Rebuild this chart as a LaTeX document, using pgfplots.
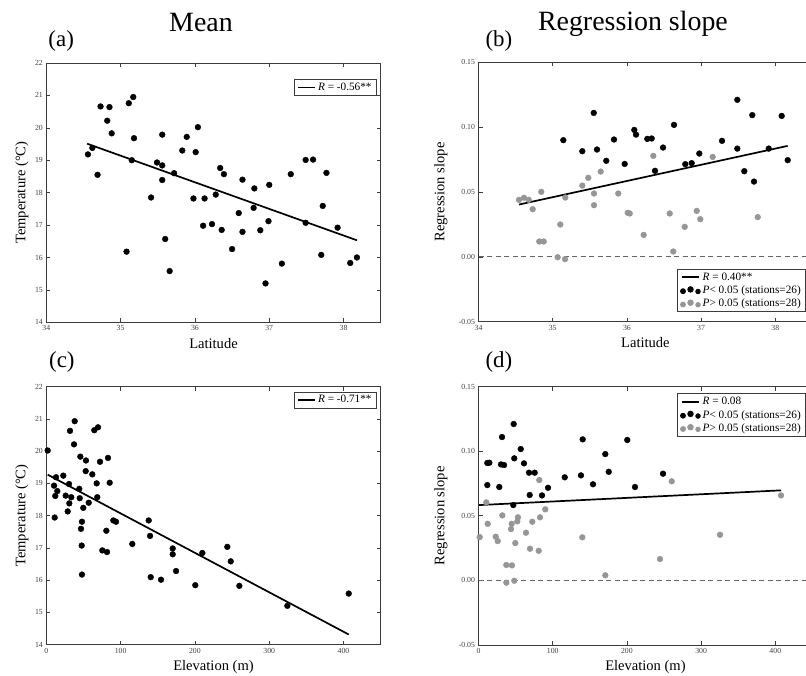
\documentclass[border=0pt]{standalone}
\usepackage{fontspec}
\setmainfont{Liberation Serif}
\usepackage{pgfplots}
\usepackage{pgfplotstable}
\pgfplotsset{compat=1.18}

\definecolor{frame}{RGB}{60,60,60}
\definecolor{nsgray}{RGB}{150,150,150}
\definecolor{zeroline}{RGB}{100,100,100}

% station means: latitude, elevation (m), temperature (degC)
\pgfplotstableread{
lat   T
34.56 19.18
34.62 19.38
34.69 18.55
34.73 20.66
34.85 20.64
34.82 20.22
34.88 19.83
35.11 20.76
35.17 20.95
35.18 19.68
35.15 19.00
35.56 19.79
35.49 18.93
35.56 18.84
35.56 18.39
35.72 18.60
35.83 19.30
35.89 19.72
36.01 19.25
36.04 20.02
36.34 18.76
36.39 18.57
36.64 18.40
37.29 18.57
37.49 19.01
37.59 19.02
37.77 18.61
35.41 17.85
35.08 16.18
35.60 16.57
35.66 15.58
35.98 17.82
36.13 17.82
36.28 17.94
36.11 16.98
36.23 17.03
36.36 16.85
36.50 16.26
36.59 17.37
36.64 16.79
36.80 18.13
36.79 17.53
37.00 18.24
36.99 17.12
36.88 16.84
36.95 15.20
37.17 15.81
37.49 17.07
37.72 17.59
37.70 16.08
37.92 16.92
38.09 15.83
38.18 16.00
}\meanlat

\pgfplotstableread{
elev  T
1.9   20.02
38.2  20.93
31.9  20.63
37.3  20.21
45.8  19.83
53.4  19.71
53.0  19.38
61.9  19.28
64.6  20.65
69.6  20.74
72.3  19.67
83.0  19.79
85.3  19.02
67.8  19.00
13.1  19.19
22.9  19.24
10.4  18.93
30.6  18.98
44.4  18.83
14.8  18.76
12.1  18.61
26.1  18.62
33.6  18.57
31.0  18.38
28.8  18.13
11.3  17.94
45.0  18.54
49.8  18.24
57.1  18.40
68.6  18.57
48.0  17.81
46.7  17.59
47.6  17.07
48.0  16.17
75.4  16.92
81.7  16.87
80.8  17.53
90.2  17.85
93.8  17.81
115.7 17.12
137.8 17.85
139.6 17.37
140.5 16.09
154.4 16.01
170.1 16.98
170.1 16.80
174.6 16.28
200.5 15.84
210.0 16.84
243.6 17.03
248.2 16.58
259.8 15.82
324.4 15.20
407.0 15.58
}\meanelev

% regression slopes against latitude, significant (P<0.05) stations
\pgfplotstableread{
lat    s
35.143 0.0899
35.399 0.0814
35.553 0.1109
35.597 0.0827
35.722 0.0740
35.826 0.0904
35.970 0.0716
36.100 0.0978
36.123 0.0942
36.275 0.0909
36.334 0.0912
36.379 0.0663
36.487 0.0842
36.635 0.1017
36.787 0.0714
36.873 0.0722
36.976 0.0796
37.282 0.0894
37.488 0.1210
37.488 0.0834
37.582 0.0660
37.690 0.1092
37.713 0.0580
37.911 0.0834
38.086 0.1086
38.167 0.0745
}\sigslope

% regression slopes against elevation, significant stations
\pgfplotstableread{
elev   s
11.9   0.0909
14.6   0.0911
11.9   0.0738
28.0   0.0723
31.7   0.1110
30.3   0.0898
34.4   0.0893
47.4   0.1211
48.2   0.0945
56.9   0.1017
61.3   0.0906
68.1   0.0834
75.7   0.0834
93.7   0.0717
116.2  0.0798
138.1  0.0813
140.4  0.1092
154.3  0.0744
170.9  0.0978
175.5  0.0841
200.5  0.1087
210.9  0.0723
248.7  0.0826
46.9   0.0583
69.0   0.0661
85.6   0.0658
}\sigelev

% regression slopes, non-significant (P>0.05) stations
\pgfplotstableread{
lat    s
34.546 0.0439
34.613 0.0455
34.677 0.0439
34.730 0.0367
34.846 0.0501
34.819 0.0118
34.879 0.0118
35.067 -0.0003
35.166 -0.0018
35.102 0.0249
35.170 0.0457
35.399 0.0549
35.480 0.0609
35.557 0.0488
35.557 0.0398
35.647 0.0657
35.884 0.0488
36.011 0.0339
36.038 0.0334
36.226 0.0169
36.356 0.0778
36.577 0.0334
36.625 0.0041
36.779 0.0231
36.941 0.0354
36.989 0.0290
37.156 0.0770
37.763 0.0306
}\nslat

\pgfplotstableread{
elev   s
1.6    0.0335
10.5   0.0604
12.4   0.0438
23.2   0.0338
25.9   0.0304
32.1   0.0503
37.5   0.0119
37.5   -0.0018
43.8   0.0397
44.7   0.0438
45.1   0.0116
48.2   -0.0003
49.6   0.0289
52.3   0.0457
53.2   0.0488
64.0   0.0369
69.4   0.0245
72.5   0.0454
81.1   0.0229
82.9   0.0488
90.0   0.0550
81.9   0.0777
139.9  0.0333
170.9  0.0039
244.6  0.0165
260.4  0.0767
325.5  0.0353
407.7  0.0658
}\nselev

\pgfplotsset{
  panel/.style={
    scale only axis,
    axis line style={frame, line width=0.8bp},
    tick style={frame, line width=0.6bp},
    major tick length=4bp,
    tick align=inside,
    ticklabel style={font=\fontsize{7.8}{9}\selectfont, text=black!75},
    /pgf/number format/assume math mode=true,
    scaled ticks=false,
    every axis x label/.style={at={(axis description cs:0.5,-0.1003)}, anchor=base,
      font=\fontsize{14.6}{16}\selectfont},
    every axis y label/.style={at={(axis description cs:-0.0727,0.5)}, rotate=90, anchor=center,
      font=\fontsize{14.6}{16}\selectfont},
    title style={anchor=base west, font=\fontsize{23}{25}\selectfont},
    clip=false,
    legend cell align=left,
    legend style={font=\fontsize{11.3}{13}\selectfont, draw=frame, line width=0.8bp,
      inner xsep=3bp, inner ysep=1.5bp, row sep=0bp},
  },
  slopepanel/.style={
    panel,
    ymin=-0.05, ymax=0.15,
    ytick={-0.05,0,0.05,0.1,0.15},
    yticklabels={-0.05,0.00,0.05,0.10,0.15},
    every axis y label/.style={at={(axis description cs:-0.1123,0.5)}, rotate=90, anchor=center,
      font=\fontsize{14.6}{16}\selectfont},
  },
  dots/.style={only marks, mark=*, mark size=2.9bp, color=#1, mark options={draw=none, fill=#1}},
  fitline/.style={black, line width=1.7bp},
  heading/.style={extra description/.code={
      \node[font=\fontsize{28}{30}\selectfont, anchor=base] at (axis description cs:0.4626,1.122) {#1};}},
  threedots/.style={legend image code/.code={
      \fill[#1] (1.5bp,-0.8bp) circle (2.5bp);
      \fill[#1] (9bp,1bp) circle (2.8bp);
      \fill[#1] (16.5bp,-1.1bp) circle (2.3bp);}},
}

\begin{document}
\begin{tikzpicture}
\path[use as bounding box] (0,0) rectangle (806bp,676bp);
\clip (0,0) rectangle (806bp,676bp);

% (a) mean temperature against latitude
\begin{axis}[panel, heading=Mean,
  at={(46.3bp,353.7bp)}, anchor=south west,
  width=334.4bp, height=259.3bp,
  xmin=34, xmax=38.5, ymin=14, ymax=22,
  xtick={34,35,36,37,38}, ytick={14,15,...,22},
  xlabel={Latitude}, ylabel={Temperature (°C)},
  title={(a)}, title style={at={(axis description cs:-0.004,1.04)}},
  legend style={at={(axis description cs:0.989,0.938)}, anchor=north east},
]
\addplot[dots=black, forget plot] table[x=lat, y=T] {\meanlat};
\addplot[fitline] coordinates {(34.55,19.51) (38.18,16.53)};
\addlegendentry{\textit{R} = -0.56**}
\end{axis}

% (b) regression slope against latitude
\begin{axis}[slopepanel, heading={Regression slope},
  at={(478.5bp,354.3bp)}, anchor=south west,
  width=333.9bp, height=259.5bp,
  xmin=34, xmax=38.5,
  xtick={34,35,36,37,38},
  xlabel={Latitude}, ylabel={Regression slope},
  title={(b)}, title style={at={(axis description cs:0.0105,1.037)}},
  legend style={at={(axis description cs:0.5936,0.2035)}, anchor=north west},
]
\addplot[zeroline, line width=0.8bp, dash pattern=on 5bp off 3.5bp, forget plot]
  coordinates {(34,0) (38.5,0)};
\addplot[fitline] coordinates {(34.546,0.0403) (38.167,0.0855)};
\addlegendentry{\textit{R} = 0.40**}
\addplot[dots=black, threedots=black] table[x=lat, y=s] {\sigslope};
\addlegendentry{\textit{P}< 0.05 (stations=26)}
\addplot[dots=nsgray, threedots=nsgray] table[x=lat, y=s] {\nslat};
\addlegendentry{\textit{P}> 0.05 (stations=28)}
\end{axis}

% (c) mean temperature against elevation
\begin{axis}[panel,
  at={(46.3bp,31.5bp)}, anchor=south west,
  width=334.4bp, height=257.8bp,
  xmin=0, xmax=450, ymin=14, ymax=22,
  xtick={0,100,200,300,400}, ytick={14,15,...,22},
  xlabel={Elevation (m)}, ylabel={Temperature (°C)},
  title={(c)}, title style={at={(axis description cs:-0.002,1.052)}},
  legend style={at={(axis description cs:0.989,0.981)}, anchor=north east},
]
\addplot[dots=black, forget plot] table[x=elev, y=T] {\meanelev};
\addplot[fitline] coordinates {(1.9,19.27) (407,14.31)};
\addlegendentry{\textit{R} = -0.71**}
\end{axis}

% (d) regression slope against elevation
\begin{axis}[slopepanel,
  at={(478.5bp,31.1bp)}, anchor=south west,
  width=333.9bp, height=258.2bp,
  xmin=0, xmax=450,
  xtick={0,100,200,300,400},
  xlabel={Elevation (m)}, ylabel={Regression slope},
  title={(d)}, title style={at={(axis description cs:0.0105,1.052)}},
  legend style={at={(axis description cs:0.5936,0.974)}, anchor=north west},
]
\addplot[zeroline, line width=0.8bp, dash pattern=on 5bp off 3.5bp, forget plot]
  coordinates {(0,0) (450,0)};
\addplot[fitline] coordinates {(0.7,0.0583) (407.7,0.0697)};
\addlegendentry{\textit{R} = 0.08}
\addplot[dots=black, threedots=black] table[x=elev, y=s] {\sigelev};
\addlegendentry{\textit{P}< 0.05 (stations=26)}
\addplot[dots=nsgray, threedots=nsgray] table[x=elev, y=s] {\nselev};
\addlegendentry{\textit{P}> 0.05 (stations=28)}
\end{axis}
\end{tikzpicture}
\end{document}
